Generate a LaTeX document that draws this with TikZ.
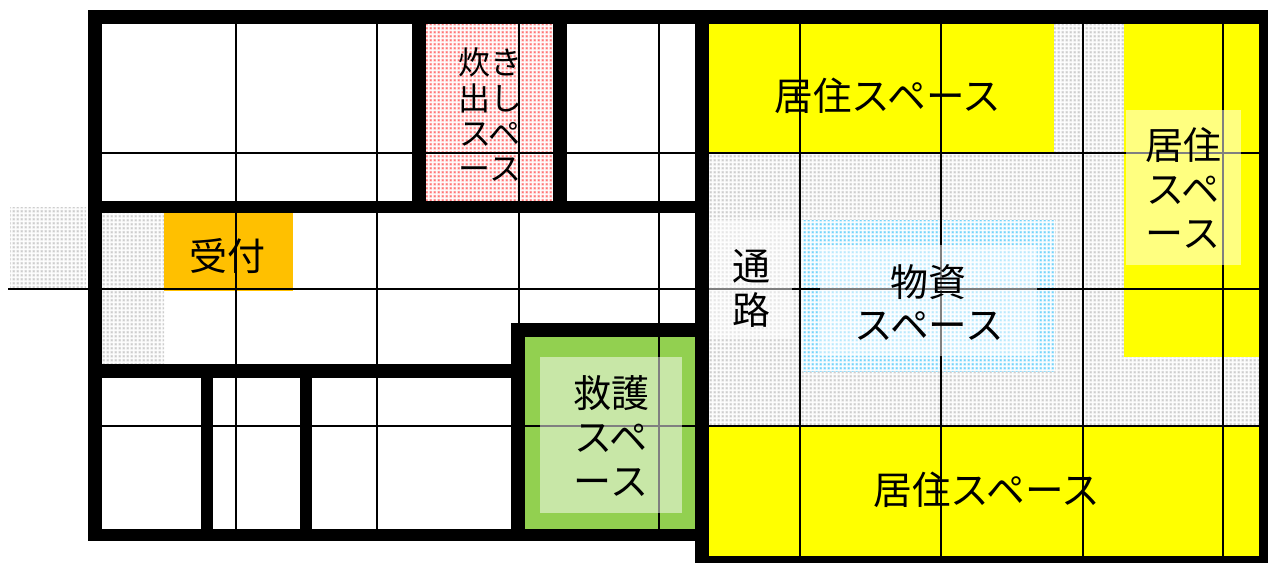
\documentclass[tikz,border=0pt]{standalone}
\usepackage{fontspec}
\setmainfont{Noto Sans CJK JP}
\usetikzlibrary{patterns}
\pgfdeclarepatternformonly{bigsq}{\pgfqpoint{0pt}{0pt}}{\pgfqpoint{4.3pt}{4.3pt}}{\pgfqpoint{4.3pt}{4.3pt}}{%
  \pgfpathrectangle{\pgfqpoint{.35pt}{.35pt}}{\pgfqpoint{3.3pt}{3.3pt}}\pgfusepath{fill}}
\pgfdeclarepatternformonly{smalld}{\pgfqpoint{0pt}{0pt}}{\pgfqpoint{4.3pt}{4.3pt}}{\pgfqpoint{4.3pt}{4.3pt}}{%
  \pgfpathrectangle{\pgfqpoint{1.55pt}{1.55pt}}{\pgfqpoint{1.2pt}{1.2pt}}\pgfusepath{fill}}
\definecolor{graylt}{HTML}{E6E6E6}
\definecolor{graydk}{HTML}{ABABAB}
\definecolor{bluelt}{HTML}{BDEBFF}
\definecolor{bluedk}{HTML}{10B4F2}
\definecolor{redlt}{HTML}{FFC0C0}
\definecolor{reddk}{HTML}{FF1010}
\definecolor{ygreen}{HTML}{92D050}
\definecolor{amber}{HTML}{FFC000}
\definecolor{pureyellow}{HTML}{FFFF00}
\tikzset{
  x=1pt,y=-1pt,
  wall/.style={fill=black,draw=none},
  grid line/.style={draw=black,line width=2pt},
  gray floor/.style={fill=white,postaction={pattern=bigsq,pattern color=graylt},postaction={pattern=smalld,pattern color=graydk}},
  blue floor/.style={fill=white,postaction={pattern=bigsq,pattern color=bluelt},postaction={pattern=smalld,pattern color=bluedk}},
  red floor/.style={fill=white,postaction={pattern=bigsq,pattern color=redlt},postaction={pattern=smalld,pattern color=reddk}},
  veil/.style={fill=white,fill opacity=.5,draw=none},
  big/.style={font=\fontsize{38}{38}\selectfont,inner sep=0pt,text=black},
  long/.style={font=\fontsize{38.6}{38.6}\selectfont,inner sep=0pt,text=black},
  small/.style={font=\fontsize{32}{32}\selectfont,inner sep=0pt,text=black},
}
\begin{document}
\begin{tikzpicture}
\useasboundingbox (0,0) rectangle (1268,563);
% floors
\path[gray floor] (10,207) rectangle (86,288);
\path[gray floor] (102,213) rectangle (164,364);
\path[gray floor] (709,24) rectangle (1259,425);
\path[blue floor] (802,220) rectangle (1055,371);
\path[red floor] (426,24) rectangle (553,201);
\fill[amber] (164,213) rectangle (293,291);
\fill[ygreen] (525,337) rectangle (695,529);
\fill[pureyellow] (709,24) rectangle (1054,152);
\fill[pureyellow] (1124,24) rectangle (1259,357);
\fill[pureyellow] (709,425) rectangle (1259,556);
% grid
\foreach \gx in {235.5,377,518.5,658.5} \draw[grid line] (\gx,24) -- (\gx,529);
\foreach \gx in {800,941,1083,1223} \draw[grid line] (\gx,24) -- (\gx,556);
\draw[grid line] (102,152.5) -- (1259,152.5);
\draw[grid line] (8,288.5) -- (1259,288.5);
\draw[grid line] (102,425.5) -- (1259,425.5);
% translucent label plates
\path[veil] (709,220) rectangle (792,338);
\path[veil] (820,245) rectangle (1037,356);
\path[veil] (1126,110) rectangle (1241,265);
\path[veil] (540,357) rectangle (682,513);
% walls
\fill[wall] (88,10) rectangle (1268,24);
\fill[wall] (88,10) rectangle (102,541);
\fill[wall] (88,529) rectangle (695,541);
\fill[wall] (695,10) rectangle (709,563);
\fill[wall] (695,556) rectangle (1268,563);
\fill[wall] (1259,10) rectangle (1268,563);
\fill[wall] (102,201) rectangle (695,213);
\fill[wall] (102,364) rectangle (511,378);
\fill[wall] (412,24) rectangle (426,201);
\fill[wall] (553,24) rectangle (567,201);
\fill[wall] (201,378) rectangle (213,529);
\fill[wall] (300,378) rectangle (312,529);
\fill[wall] (511,323) rectangle (695,337);
\fill[wall] (511,323) rectangle (525,529);
% labels
\node[big] (reception) at (227,256) {受付};
\node[small] (cook1) at (490,62) {炊き};
\node[small] (cook2) at (490,98) {出し};
\node[small] (cook3) at (490,134) {スペ};
\node[small] (cook4) at (490,170) {ース};
\node[long] (liveTop) at (888,96) {居住スペース};
\node[long] (liveBot) at (987,490) {居住スペース};
\node[big] (liveR1) at (1183,145) {居住};
\node[big] (liveR2) at (1183,190) {スペ};
\node[big] (liveR3) at (1183,235) {ース};
\node[big] (path1) at (751,266) {通};
\node[big] (path2) at (751,310) {路};
\node[big] (goods1) at (928,282) {物資};
\node[long] (goods2) at (929,326) {スペース};
\node[big] (aid1) at (611,393) {救護};
\node[big] (aid2) at (611,438) {スペ};
\node[big] (aid3) at (611,483) {ース};
\end{tikzpicture}
\end{document}
